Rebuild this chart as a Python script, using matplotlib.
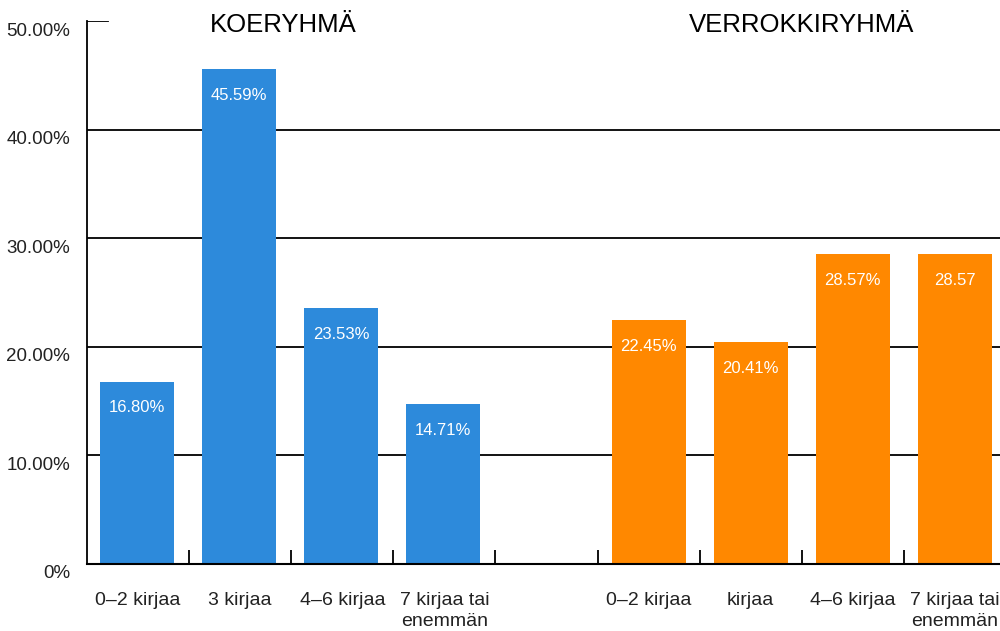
import matplotlib
matplotlib.use("Agg")
import matplotlib.pyplot as plt
import matplotlib.transforms as mtransforms

plt.rcParams['font.family'] = ['Liberation Sans', 'DejaVu Sans']

categories_koe = ["0–2 kirjaa", "3 kirjaa", "4–6 kirjaa", "7 kirjaa tai\nenemmän"]
categories_verrokki = ["0–2 kirjaa", "kirjaa", "4–6 kirjaa", "7 kirjaa tai\nenemmän"]
values_koe = [16.80, 45.59, 23.53, 14.71]
values_verrokki = [22.45, 20.41, 28.57, 28.57]
labels_koe = ["16.80%", "45.59%", "23.53%", "14.71%"]
labels_verrokki = ["22.45%", "20.41%", "28.57%", "28.57"]
yticks = [0, 10, 20, 30, 40, 50]
ytick_labels = ["0%", "10.00%", "20.00%", "30.00%", "40.00%", "50.00%"]
titles = ["KOERYHMÄ", "VERROKKIRYHMÄ"]

BLUE = "#2D8ADB"
ORANGE = "#FF8800"

fig = plt.figure(figsize=(10, 6.31), dpi=100)
W, H = 1000, 631
ax = fig.add_axes([87 / W, (H - 564) / H, (1006 - 87) / W, (564 - 21) / H])

pos_koe = list(range(len(values_koe)))
pos_ver = [len(values_koe) + 1 + i for i in range(len(values_verrokki))]
bw = 0.725

b1 = ax.bar([p - 0.01 for p in pos_koe], values_koe, width=bw, color=BLUE, zorder=2)
b2 = ax.bar(pos_ver, values_verrokki, width=bw, color=ORANGE, zorder=2)

for bars, labs in ((b1, labels_koe), (b2, labels_verrokki)):
    for rect, lab in zip(bars, labs):
        ax.annotate(lab, (rect.get_x() + rect.get_width() / 2, rect.get_height()),
                    xytext=(0, -19), textcoords="offset points",
                    ha="center", va="center", color="white", fontsize=12, zorder=3)

ax.set_xlim(-0.5, 8.5)
ax.set_ylim(0, 50)

# gridlines
for y in yticks[1:-1]:
    ax.axhline(y, color="black", lw=1.3, zorder=1)
ax.axhline(50, xmin=0, xmax=21 / 919, color="black", lw=1.3, zorder=1)

for s in ["top", "right"]:
    ax.spines[s].set_visible(False)
ax.spines["left"].set_linewidth(1.3)
ax.spines["bottom"].set_linewidth(1.5)

ax.set_yticks(yticks)
ax.set_yticklabels(ytick_labels, fontsize=13.5, color="#222222")
ax.tick_params(axis="y", length=0, pad=12)
offset = mtransforms.ScaledTranslation(0, -10 / 100, fig.dpi_scale_trans)
for lab in ax.get_yticklabels():
    lab.set_transform(lab.get_transform() + offset)
    lab.set_va("center")

ax.set_xticks(pos_koe + pos_ver)
ax.set_xticklabels(categories_koe + categories_verrokki, fontsize=14, color="#222222",
                   linespacing=1.35, va="top")
ax.tick_params(axis="x", length=0, pad=20)
ax.set_xticks([i + 0.5 for i in range(8)], minor=True)
ax.tick_params(axis="x", which="minor", direction="in", length=10, width=1.3, color="black")

fig.text(283 / W, 1 - 25 / H, titles[0], ha="center", va="center", fontsize=18.5, color="black")
fig.text(802 / W, 1 - 25 / H, titles[1], ha="center", va="center", fontsize=18.5, color="black")

fig.savefig("out.png", dpi=100)
